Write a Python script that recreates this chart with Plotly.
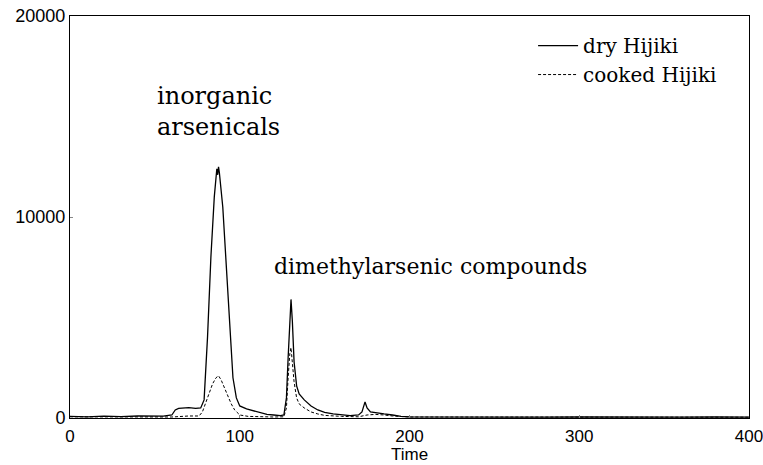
import plotly.graph_objects as go

# Dry Hijiki chromatogram (time, intensity)
dry_time = [0, 10, 20, 30, 40, 50, 55, 60, 62, 64, 66, 70, 74, 77, 79, 81, 83, 85, 86.5, 87, 87.5, 88, 90, 92, 94, 96, 98, 100,
            104, 108, 112, 116, 120, 124, 126, 127.5, 128.5, 129.5, 130.2, 131, 132, 133.5, 135, 138, 142, 146, 150, 155,
            160, 165, 170, 172, 173.8, 175, 177, 180, 185, 190, 195, 200, 220, 240, 260, 280, 300, 320, 340, 360, 380, 400]
dry_value = [80, 60, 90, 70, 100, 80, 90, 150, 400, 480, 500, 520, 480, 500, 900, 4000, 8000, 11000, 12400, 12100, 12500, 12200,
             10500, 7500, 4500, 2000, 1000, 600, 450, 350, 250, 180, 150, 120, 150, 1000, 3000, 5000, 5900, 4800, 2800, 1600,
             1200, 900, 600, 400, 280, 200, 150, 120, 150, 300, 800, 500, 300, 250, 200, 150, 80, 60, 50, 40, 60, 40, 50, 40,
             60, 40, 50, 40]

# Cooked Hijiki chromatogram (time, intensity)
cooked_time = [0, 20, 40, 60, 70, 76, 78, 80, 82, 84, 86, 87.5, 89, 91, 93, 95, 97, 100, 105, 110, 120, 126, 127.5, 128.5,
               129.5, 130.2, 131, 132, 133.5, 135, 138, 142, 146, 150, 160, 170, 175, 180, 185, 190, 200, 250, 300, 350, 400]
cooked_value = [60, 50, 60, 50, 100, 100, 300, 800, 1300, 1700, 2000, 2100, 1900, 1500, 1100, 700, 400, 150, 80, 60, 50, 60,
                500, 2000, 3200, 3500, 2800, 1800, 1000, 700, 500, 300, 200, 130, 80, 60, 150, 180, 150, 100, 50, 40, 50, 40, 40]

x_ticks = [0, 100, 200, 300, 400]
x_tick_labels = ["0", "100", "200", "300", "400"]
y_ticks = [0, 10000, 20000]
y_tick_labels = ["0", "10000", "20000"]

serif = "DejaVu Serif"
sans = "Liberation Sans"

fig = go.Figure()
fig.add_trace(go.Scatter(x=dry_time, y=dry_value, mode="lines", name="dry Hijiki",
                         line=dict(color="black", width=1.3)))
fig.add_trace(go.Scatter(x=cooked_time, y=cooked_value, mode="lines", name="cooked Hijiki",
                         line=dict(color="black", width=1, dash="3px,2px")))

fig.add_annotation(x=50, y=15250, xref="x", yref="y", text="inorganic<br>arsenicals", showarrow=False,
                   xanchor="left", yanchor="middle", align="left",
                   font=dict(family=serif, size=24, color="black"))
fig.add_annotation(x=119, y=7550, xref="x", yref="y", text="dimethylarsenic compounds", showarrow=False,
                   xanchor="left", yanchor="middle",
                   font=dict(family=serif, size=22, color="black"))
fig.add_annotation(x=0.5, y=-0.092, xref="paper", yref="paper", text="Time", showarrow=False,
                   xanchor="center", yanchor="middle",
                   font=dict(family=sans, size=17, color="black"))

fig.update_layout(
    width=763, height=465,
    margin=dict(l=70, r=14, t=16, b=47, autoexpand=False),
    paper_bgcolor="white", plot_bgcolor="white",
    showlegend=True,
    legend=dict(x=0.682, y=0.975, xanchor="left", yanchor="top", bgcolor="rgba(0,0,0,0)",
                itemwidth=40,
                font=dict(family=serif, size=20, color="black"), tracegroupgap=0),
    font=dict(family=sans, color="black"),
)
fig.update_xaxes(range=[0, 400], tickvals=x_ticks, ticktext=x_tick_labels, showgrid=False, zeroline=False,
                 showline=True, linecolor="black", linewidth=1, mirror=True, automargin=False,
                 ticks="inside", ticklen=3, tickcolor="#888", ticklabeloverflow="allow", ticklabelstandoff=3,
                 tickfont=dict(family=sans, size=17, color="black"))
fig.update_yaxes(range=[0, 20000], tickvals=y_ticks, ticktext=y_tick_labels, showgrid=False, zeroline=False,
                 showline=True, linecolor="black", linewidth=1, mirror=True, automargin=False,
                 ticks="inside", ticklen=3, tickcolor="#888", ticklabeloverflow="allow",
                 tickfont=dict(family=sans, size=18, color="black"))

fig.write_html("out.html", config={"displayModeBar": False},
               post_script="document.body.style.margin='0';document.body.style.overflow='hidden';")
